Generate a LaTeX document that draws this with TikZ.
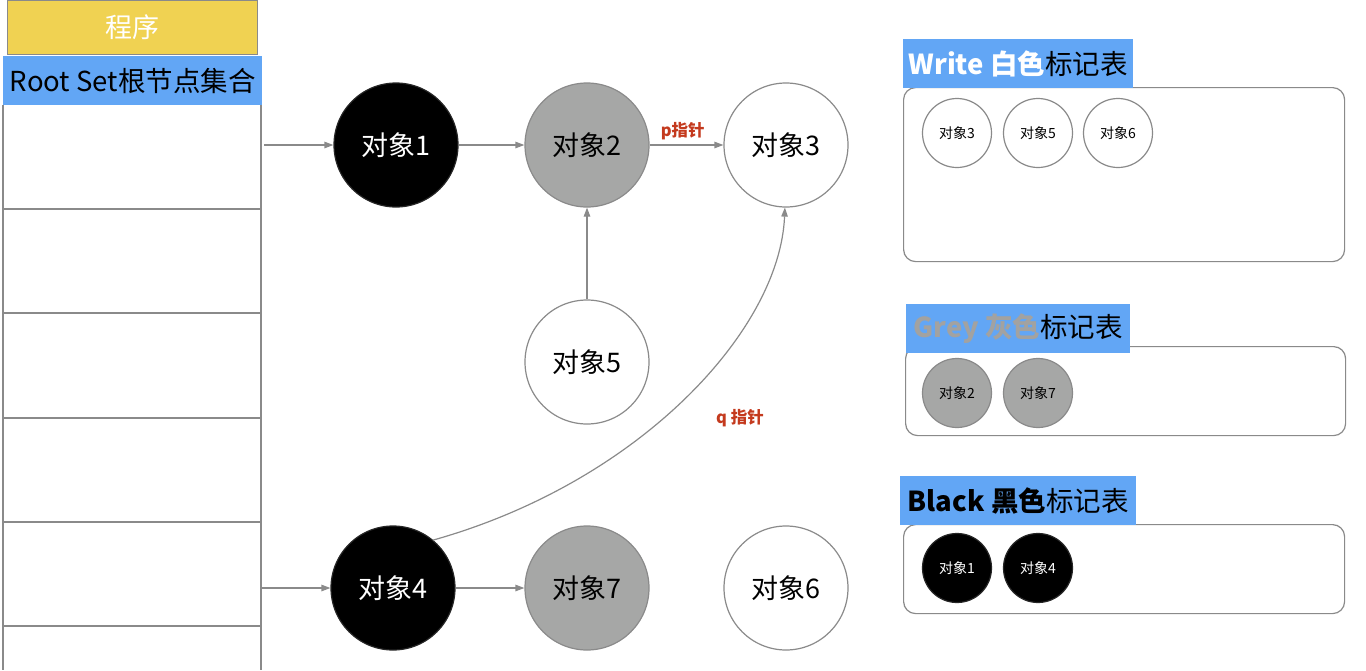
\documentclass[tikz,border=0pt]{standalone}
\usepackage{fontspec}
\setmainfont{Noto Sans CJK SC}
\usetikzlibrary{arrows.meta,positioning}
\definecolor{ygold}{HTML}{F0D252}
\definecolor{lblue}{HTML}{62A6F5}
\definecolor{objgray}{HTML}{A6A7A6}
\definecolor{linegray}{HTML}{8A8A8A}
\definecolor{ptrred}{HTML}{C43A1E}
\definecolor{greytxt}{HTML}{A2A2A1}
\tikzset{
  obj/.style={circle, draw=linegray, line width=1.2pt, minimum size=124pt, inner sep=0pt, font=\fontsize{27}{30}\selectfont},
  blackobj/.style={obj, fill=black, draw=black!85, text=white},
  greyobj/.style={obj, fill=objgray},
  whiteobj/.style={obj, fill=white},
  smallobj/.style={circle, draw=linegray, line width=1.2pt, minimum size=69pt, inner sep=0pt, font=\fontsize{14}{16}\selectfont},
  sblack/.style={smallobj, fill=black, draw=black!85, text=white},
  sgrey/.style={smallobj, fill=objgray},
  swhite/.style={smallobj, fill=white},
  conn/.style={draw=linegray, line width=1.2pt, -{Triangle[length=9pt,width=6.5pt]}},
  tline/.style={draw=linegray, line width=1.2pt},
  panel/.style={draw=linegray, line width=1.2pt, rounded corners=12pt, fill=white, anchor=north west, inner sep=0pt},
  labelbox/.style={fill=lblue, anchor=north west, inner sep=0pt, minimum height=49pt, font=\fontsize{27.5}{30}\selectfont},
  ptr/.style={text=ptrred, font=\bfseries\fontsize{16.5}{18}\selectfont}
}
\begin{document}
\begin{tikzpicture}[x=1pt,y=-1pt]
\useasboundingbox (0,0) rectangle (1366,670);
% program header
\node[draw=linegray, line width=1pt, fill=ygold, anchor=north west, minimum width=250pt, minimum height=54pt, inner sep=0pt, text=white, font=\fontsize{27}{30}\selectfont] (prog) at (7,0) {程序};
\node[fill=lblue, anchor=north west, minimum width=259pt, minimum height=49pt, inner sep=0pt, font=\fontsize{27.5}{30}\selectfont] (root) at (3,56) {Root Set根节点集合};
% table
\draw[tline] (3,105) -- (3,670);
\draw[tline] (261,105) -- (261,670);
\foreach \yy in {209,313,418,522,626} {\draw[tline] (3,\yy) -- (261,\yy);}
\coordinate (r1) at (264,145);
\coordinate (r5) at (261,588);
% objects
\node[blackobj] (o1) at (396,145) {对象1};
\node[greyobj] (o2) at (587,145) {对象2};
\node[whiteobj] (o3) at (786,145) {对象3};
\node[whiteobj] (o5) at (587,362) {对象5};
\node[blackobj] (o4) at (393,588) {对象4};
\node[greyobj] (o7) at (587,588) {对象7};
\node[whiteobj] (o6) at (786,588) {对象6};
% connectors
\draw[conn] (r1) -- (o1);
\draw[conn] (o1) -- (o2);
\draw[conn] (o2) -- node[ptr, above=1pt, pos=0.45] (plabel) {p指针} (o3);
\draw[conn] (o5) -- (o2);
\draw[conn] (r5) -- (o4);
\draw[conn] (o4) -- (o7);
\draw[conn] (o4.50) .. controls (640,482) and (780,330) .. (o3.-91);
\node[ptr] (qlabel) at (740,418) {q 指针};
% panels
\node[panel, minimum width=441pt, minimum height=174pt] (wbox) at (903,87) {};
\node[panel, minimum width=440pt, minimum height=89pt] (gbox) at (905,346) {};
\node[panel, minimum width=441pt, minimum height=89pt] (bbox) at (903,524) {};
\node[labelbox, minimum width=230pt] (wlab) at (903,39) {\textcolor{white}{\bfseries Write 白色}标记表};
\node[labelbox, minimum width=224pt] (glab) at (906,304) {\textcolor{greytxt}{\bfseries Grey 灰色}标记表};
\node[labelbox, minimum width=236pt] (blab) at (900,476) {{\bfseries Black 黑色}标记表};
% small objects
\node[swhite] (w3) at (957,133) {对象3};
\node[swhite] (w5) at (1038,133) {对象5};
\node[swhite] (w6) at (1118,133) {对象6};
\node[sgrey] (g2) at (957,393) {对象2};
\node[sgrey] (g7) at (1038,393) {对象7};
\node[sblack] (b1) at (957,568) {对象1};
\node[sblack] (b4) at (1038,568) {对象4};
\end{tikzpicture}
\end{document}
